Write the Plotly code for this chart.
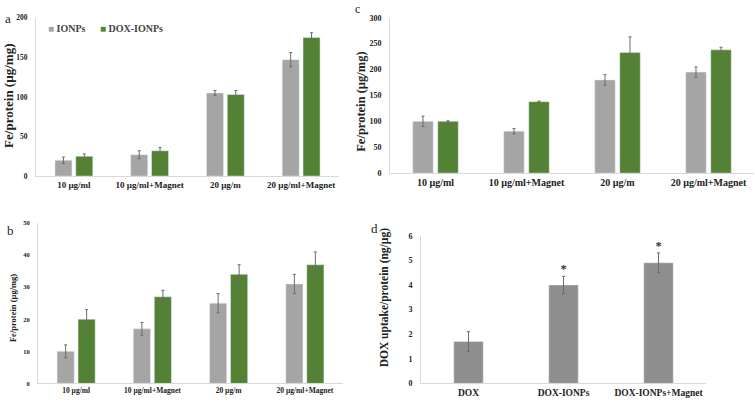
import plotly.graph_objects as go

W, H = 755, 405
FONT = "Liberation Serif"
GRAY = "#a5a5a5"
GREEN = "#548235"
DGRAY = "#8e8e8e"
ERRC = "#6b6b6b"
AXC = "#d9d9d9"

cats = ["10 µg/ml", "10 µg/ml+Magnet", "20 µg/m", "20 µg/ml+Magnet"]
series_names = ["IONPs", "DOX-IONPs"]

# panel a
a_ionps = [20, 27, 105, 147]
a_ionps_err = [4, 5, 3, 9]
a_dox = [25, 32, 103, 175]
a_dox_err = [3, 4, 5, 6]
# panel b
b_ionps = [10, 17, 25, 31]
b_ionps_err = [2, 2, 3, 3]
b_dox = [20, 27, 34, 37]
b_dox_err = [3, 2, 3, 4]
# panel c
c_ionps = [100, 81, 180, 195]
c_ionps_err = [10, 5, 10, 10]
c_dox = [100, 138, 233, 238]
c_dox_err = [1, 1, 30, 5]
# panel d
d_cats = ["DOX", "DOX-IONPs", "DOX-IONPs+Magnet"]
d_vals = [1.7, 4.0, 4.9]
d_err = [0.4, 0.35, 0.4]
d_sig = ["", "*", "*"]


def px_x(a, b):
    return [a / W, b / W]


def px_y(bottom, top):
    return [(H - bottom) / H, (H - top) / H]


fig = go.Figure()

BW = 0.225


def add_pair(xa, ya, v1, e1, v2, e2):
    fig.add_trace(go.Bar(x=cats, y=v1, name=series_names[0], marker_color=GRAY,
                         width=BW, offset=-0.25, xaxis=xa, yaxis=ya, showlegend=False,
                         error_y=dict(type="data", array=e1, color=ERRC, thickness=1, width=1.5)))
    fig.add_trace(go.Bar(x=cats, y=v2, name=series_names[1], marker_color=GREEN,
                         width=BW, offset=0.025, xaxis=xa, yaxis=ya, showlegend=False,
                         error_y=dict(type="data", array=e2, color=ERRC, thickness=1, width=1.5)))


add_pair("x", "y", a_ionps, a_ionps_err, a_dox, a_dox_err)
add_pair("x3", "y3", b_ionps, b_ionps_err, b_dox, b_dox_err)
add_pair("x2", "y2", c_ionps, c_ionps_err, c_dox, c_dox_err)

fig.add_trace(go.Bar(x=d_cats, y=d_vals, marker_color=DGRAY, width=0.31, xaxis="x4", yaxis="y4",
                     showlegend=False,
                     error_y=dict(type="data", array=d_err, color=ERRC, thickness=1, width=1.5)))
fig.add_trace(go.Scatter(x=d_cats, y=[v + e for v, e in zip(d_vals, d_err)], text=d_sig,
                         mode="text", textposition="top center", xaxis="x4", yaxis="y4",
                         textfont=dict(family=FONT, size=12.5, color="#333333", weight="bold"),
                         showlegend=False))


def xax(dom, size, anchor):
    return dict(domain=dom, anchor=anchor, showline=True, linecolor=AXC, linewidth=1,
                ticks="", showgrid=False, zeroline=False, fixedrange=True,
                tickfont=dict(family=FONT, size=size, color="#222222", weight="bold"))


def yax(dom, rng, dtick, size, anchor):
    return dict(domain=dom, anchor=anchor, range=rng, dtick=dtick, autorange=False,
                showline=True, linecolor=AXC, linewidth=1, ticks="", showgrid=False,
                zeroline=False, ticklabelstandoff=6, fixedrange=True,
                tickfont=dict(family=FONT, size=size, color="#222222", weight="bold"))


fig.update_layout(
    width=W, height=H, margin=dict(l=0, r=0, t=0, b=0),
    paper_bgcolor="white", plot_bgcolor="white", barmode="overlay",
    xaxis=dict(xax(px_x(36, 339), 9, "y"), range=[-0.5, 3.5]),
    yaxis=yax(px_y(176, 14), [0, 200], 50, 7.5, "x"),
    xaxis2=dict(xax(px_x(390, 754), 10, "y2"), range=[-0.5, 3.5]),
    yaxis2=yax(px_y(173, 14), [0, 300], 50, 8, "x2"),
    xaxis3=dict(xax(px_x(38, 343), 7.5, "y3"), range=[-0.5, 3.5]),
    yaxis3=yax(px_y(388, 224), [0, 50], 10, 6.5, "x3"),
    xaxis4=dict(xax(px_x(421, 706), 9.5, "y4"), range=[-0.5, 2.5]),
    yaxis4=yax(px_y(388, 237), [0, 6], 1, 8, "x4"),
)


def ann(text, x, y, size, bold=False, angle=0, color="#222222", xanchor="center"):
    fig.add_annotation(text=text, x=x / W, y=(H - y) / H, xref="paper", yref="paper",
                       showarrow=False, textangle=angle, xanchor=xanchor, yanchor="middle",
                       font=dict(family=FONT, size=size, color=color,
                                 weight="bold" if bold else "normal"))


# axis titles
ann("Fe/protein (µg/mg)", 9, 94, 13, bold=True, angle=-90)
ann("Fe/protein (µg/mg)", 361, 100, 12.5, bold=True, angle=-90)
ann("Fe/protein (µg/mg)", 13, 311, 8.5, bold=True, angle=-90)
ann("DOX uptake/protein (ng/µg)", 384, 301, 11.5, bold=True, angle=-90)

# panel letters
ann("a", 8, 15, 13)
ann("c", 357, 5, 12)
ann("b", 10, 232, 13)
ann("d", 374, 230, 13)

# legend for panel a
ann(f"<span style='color:{GRAY}'>■</span> {series_names[0]}", 46, 25, 10, bold=True,
    color="#444444", xanchor="left")
ann(f"<span style='color:{GREEN}'>■</span> {series_names[1]}", 98, 25, 10, bold=True,
    color="#444444", xanchor="left")

fig.write_html("out.html", config={"displayModeBar": False},
               post_script="document.body.style.margin='0';document.body.style.overflow='hidden';")
